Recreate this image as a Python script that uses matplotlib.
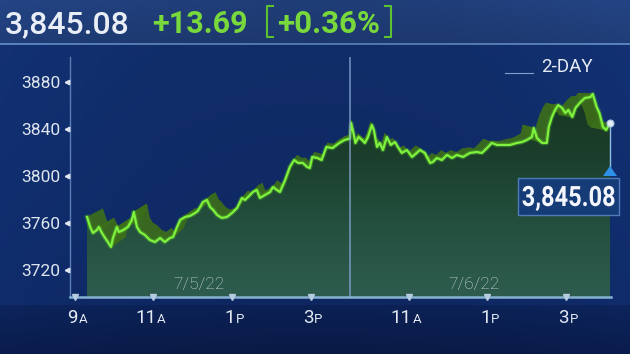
import numpy as np
import matplotlib
matplotlib.use("Agg")
import matplotlib.pyplot as plt
from matplotlib.collections import PolyCollection
from matplotlib.patches import Polygon, Rectangle, PathPatch
from matplotlib.lines import Line2D
from matplotlib.colors import LinearSegmentedColormap
from matplotlib.textpath import TextPath
from matplotlib.font_manager import FontProperties
import matplotlib.patheffects as pe
import matplotlib.transforms as mtrans

plt.rcParams['font.family'] = ['Roboto', 'DejaVu Sans']

# ---------------- data ----------------
# x = trading-session hours (0 = 9:30 on 7/5/22, 6.5 = close of 7/5 / open of 7/6)
day1_hours = [-0.19, -0.11, -0.04, 0.06, 0.11, 0.19, 0.27, 0.34, 0.42, 0.47, 0.57, 0.62,
              0.73, 0.85, 0.95, 1.00, 1.08, 1.16, 1.28, 1.41, 1.54, 1.67, 1.79, 1.92,
              2.00, 2.10, 2.18, 2.30, 2.43, 2.56, 2.63, 2.76, 2.86, 2.94, 3.02, 3.12,
              3.24, 3.37, 3.50, 3.63, 3.75, 3.83, 3.96, 4.03, 4.13, 4.21, 4.34, 4.47,
              4.54, 4.64, 4.72, 4.85, 4.97, 5.08, 5.18, 5.30, 5.41, 5.48, 5.54, 5.67,
              5.78, 5.90, 6.06, 6.23, 6.36, 6.45]
day1_prices = [3765.1, 3756.6, 3751.5, 3754.0, 3756.6, 3751.5, 3747.2, 3743.8, 3739.6, 3747.2,
               3756.6, 3752.3, 3754.0, 3756.6, 3762.6, 3769.4, 3756.6, 3752.3, 3749.8, 3745.5,
               3743.8, 3747.2, 3743.8, 3747.2, 3748.1, 3756.6, 3762.6, 3765.1, 3766.0, 3768.5,
               3770.2, 3777.9, 3779.6, 3773.6, 3771.1, 3766.8, 3764.3, 3765.1, 3768.5, 3772.8,
               3781.3, 3779.6, 3783.8, 3786.4, 3788.1, 3781.3, 3783.8, 3786.4, 3790.6, 3788.1,
               3786.4, 3796.6, 3807.7, 3813.6, 3811.1, 3811.1, 3807.7, 3806.8, 3816.2, 3815.3,
               3813.6, 3824.7, 3823.8, 3828.1, 3830.6, 3831.4]
day2_hours = [6.50, 6.53, 6.59, 6.64, 6.72, 6.81, 6.88, 6.96, 7.06, 7.11, 7.19, 7.26, 7.34,
              7.44, 7.54, 7.65, 7.72, 7.82, 7.95, 8.08, 8.20, 8.28, 8.41, 8.54, 8.61, 8.71,
              8.84, 8.97, 9.10, 9.22, 9.38, 9.55, 9.73, 9.86, 9.99, 10.11, 10.24, 10.39,
              10.57, 10.75, 10.88, 11.00, 11.13, 11.18, 11.26, 11.39, 11.51, 11.56, 11.64,
              11.72, 11.80, 11.90, 11.98, 12.06, 12.16, 12.24, 12.37, 12.48, 12.62, 12.68,
              12.78, 12.85, 12.94, 13.02, 13.12]
day2_prices = [3832.0, 3845.1, 3836.6, 3828.1, 3833.2, 3830.6, 3828.1, 3833.2, 3843.4, 3839.1,
               3824.7, 3828.1, 3822.1, 3833.2, 3826.4, 3828.9, 3824.7, 3819.6, 3822.1, 3816.2,
               3819.6, 3822.1, 3819.6, 3811.1, 3811.9, 3815.3, 3813.6, 3817.9, 3815.3, 3817.9,
               3816.2, 3819.6, 3820.4, 3819.6, 3823.8, 3828.1, 3826.4, 3826.4, 3826.4, 3828.1,
               3828.9, 3830.6, 3833.2, 3840.9, 3832.3, 3828.1, 3828.1, 3841.7, 3850.2, 3856.2,
               3860.4, 3857.9, 3853.6, 3856.2, 3850.2, 3857.9, 3863.0, 3866.4, 3867.2, 3869.8,
               3858.7, 3853.6, 3841.7, 3839.1, 3845.08]

y_ticks = [3720, 3760, 3800, 3840, 3880]
x_tick_pos = [-0.5, 1.5, 3.5, 5.5, 8.0, 10.0, 12.0]
x_tick_num = ['9', '11', '1', '3', '11', '1', '3']
x_tick_suffix = ['A', 'A', 'P', 'P', 'A', 'P', 'P']
date_labels = ['7/5/22', '7/6/22']
date_label_pos = [2.66, 9.66]
day_break = 6.5
last_price = 3845.08
change = 13.69
pct_change = 0.36
period_label = '2-DAY'

# ---------------- figure ----------------
W, H = 630, 354
fig = plt.figure(figsize=(W / 100, H / 100), dpi=100)


def fx(px):
    return px / W


def fy(py):
    return 1 - py / H


# background
bg = fig.add_axes([0, 0, 1, 1])
bg.axis('off')
img = np.zeros((H, W, 3))
c = np.arange(W)[None, :].astype(float)
top = np.array([0.12, 0.23, 0.45])
mid_t = np.array([0.065, 0.175, 0.41])
mid_b = np.array([0.055, 0.155, 0.38])
low_t = np.array([0.045, 0.13, 0.33])
low_b = np.array([0.035, 0.10, 0.27])
for i in range(H):
    if i < 43:
        col = top * (1.05 - 0.1 * i / 43)
    elif i < 45:
        col = np.array([0.32, 0.46, 0.68])
    elif i < 305:
        t = (i - 45) / 260
        col = mid_t * (1 - t) + mid_b * t
    else:
        t = (i - 305) / 49
        col = low_t * (1 - t) + low_b * t
    img[i, :, :] = col
vign = 1 + 0.10 * (np.abs(c - W / 2) / (W / 2)) ** 2
img = np.clip(img * vign[..., None], 0, 1)
bg.imshow(img, extent=[0, 1, 0, 1], aspect='auto', origin='upper')
bg.set_xlim(0, 1)
bg.set_ylim(0, 1)

# main axes
ax_left, ax_right, ax_top, ax_bot = 70, 625, 57, 297
ax = fig.add_axes([fx(ax_left), fy(ax_bot), (ax_right - ax_left) / W, (ax_bot - ax_top) / H])
ax.patch.set_alpha(0)
xmin, xmax = -0.623, 13.5
ymin, ymax = 3697.0, 3901.3
for s in ['top', 'right', 'bottom']:
    ax.spines[s].set_visible(False)
ax.spines['left'].set_color('#5a7db5')
ax.spines['left'].set_linewidth(1.0)

x = np.array(day1_hours + day2_hours)
y = np.array(day1_prices + day2_prices)

# gradient area under line
verts = [(x[0], ymin)] + list(zip(x, y)) + [(x[-1], ymin)]
area = Polygon(verts, closed=True, facecolor='none', edgecolor='none')
ax.add_patch(area)
cmap = LinearSegmentedColormap.from_list('g', ['#2d5c4e', '#24503f', '#1b3f2c', '#163522'])
grad = np.linspace(0, 1, 256).reshape(-1, 1)
im = ax.imshow(grad, extent=[x[0], x[-1], ymin, 3875], origin='lower', aspect='auto',
               cmap=cmap, zorder=1)
im.set_clip_path(area)

# 3D ribbon (perspective extrusion toward a vanishing point)
cx, cy, sc = day_break, 3882.0, 0.06
bx = x + (cx - x) * sc
by = y + (cy - y) * sc
quads = [[(x[i], y[i]), (x[i + 1], y[i + 1]), (bx[i + 1], by[i + 1]), (bx[i], by[i])]
         for i in range(len(x) - 1)]
ax.add_collection(PolyCollection(quads, facecolors='#3d6e1a', edgecolors='#3d6e1a',
                                 linewidths=0.4, alpha=0.9, zorder=2))

# main line
ax.plot(x, y, color='#7ef23c', lw=1.6, zorder=4, solid_joinstyle='round',
        path_effects=[pe.Stroke(linewidth=3.4, foreground='#58c02c', alpha=0.35), pe.Normal()])

# day separator
ax.axvline(day_break, color='#86a6d4', lw=1.1, alpha=0.85, zorder=5)

# bottom axis line
ax.plot([xmin, x[-1] + 0.03], [ymin, ymin], color='#86b2d2', lw=1.8, zorder=6, clip_on=False)
ax.plot(x_tick_pos, [ymin] * len(x_tick_pos), 'v', color='#b5cce2', ms=4.2, zorder=7,
        clip_on=False)

ax.set_xlim(xmin, xmax)
ax.set_ylim(ymin, ymax)

# y ticks
ax.set_xticks([])
ax.set_yticks(y_ticks)
ax.set_yticklabels([str(v) for v in y_ticks], color='#dfe6f0', fontsize=12.5)
ax.tick_params(axis='y', length=0, pad=7)
ytr = mtrans.blended_transform_factory(ax.transAxes, ax.transData)
ax.plot([-0.005] * len(y_ticks), y_ticks, '<', color='#dfe6f0', ms=3.2, transform=ytr,
        clip_on=False, zorder=7)

# x tick labels (number + small suffix)
for pos, num, suf in zip(x_tick_pos, x_tick_num, x_tick_suffix):
    ax.annotate(num, xy=(pos, ymin), xytext=(2.2, -19), textcoords='offset points',
                ha='right', va='baseline', color='#e4eaf3', fontsize=13.5,
                annotation_clip=False)
    ax.annotate(suf, xy=(pos, ymin), xytext=(2.6, -19), textcoords='offset points',
                ha='left', va='baseline', color='#e4eaf3', fontsize=9.5,
                annotation_clip=False)

# date labels
xtr = mtrans.blended_transform_factory(ax.transData, ax.transAxes)
for pos, lab in zip(date_label_pos, date_labels):
    ax.text(pos, 0.05, lab, transform=xtr, ha='center', va='center', color='#cdd5e0',
            fontsize=12.5, fontweight='light', zorder=8)

# end point marker + price flag
ax.plot([x[-1]], [y[-1]], 'o', ms=5, mfc='#e2eaf4', mec='#a8c4e0', mew=0.8, zorder=9)
inv = ax.transData.inverted()
flag_top = inv.transform((0, (H - 168)))[1]
ax.plot([x[-1], x[-1]], [y[-1], flag_top], color='#8fbde8', lw=1.0, zorder=8, clip_on=False)

fig.patches.append(Polygon([(fx(603), fy(176)), (fx(617), fy(176)), (fx(610), fy(166))],
                           closed=True, transform=fig.transFigure, facecolor='#2f90e8',
                           edgecolor='none', zorder=10))
fig.patches.append(Rectangle((fx(518), fy(215)), (619 - 518) / W, (215 - 178) / H,
                             transform=fig.transFigure, facecolor='#163c78',
                             edgecolor='#4f7cb8', lw=1.0, zorder=10))
# condensed bold price text in the flag (text drawn as a horizontally squeezed glyph path)
fp = FontProperties(family='Roboto', weight='bold')
tp = TextPath((0, 0), f'{last_price:,.2f}', size=28, prop=fp)
bb = tp.get_extents()
sx = 92 / bb.width
ttr = (mtrans.Affine2D().translate(-bb.x0 - bb.width / 2, 0).scale(sx, 1.0)
       .translate(568.5, H - 206).scale(1 / W, 1 / H) + fig.transFigure)
fig.patches.append(PathPatch(tp, transform=ttr, facecolor='#f2f5fa', edgecolor='none',
                             zorder=11))

# period label
fig.text(fx(567), fy(67), period_label, ha='center', va='center', color='#e6ecf4',
         fontsize=13.5)
fig.lines.append(Line2D([fx(505), fx(533)], [fy(73), fy(73)], transform=fig.transFigure,
                        color='#7f9fcc', lw=0.8))

# header
fig.text(fx(5), fy(33), f'{last_price:,.2f}', ha='left', va='baseline', color='#e9eef6',
         fontsize=23, fontweight='medium')
green = '#78d83c'
fig.text(fx(152), fy(33), f'+{change:.2f}', ha='left', va='baseline', color=green,
         fontsize=22, fontweight='bold')
fig.text(fx(277), fy(33), f'+{pct_change:.2f}%', ha='left', va='baseline', color=green,
         fontsize=22.5, fontweight='bold')
for xs, xe in [(267, 273), (391, 385)]:
    fig.lines.append(Line2D([fx(xe), fx(xs), fx(xs), fx(xe)], [fy(6), fy(6), fy(37), fy(37)],
                            transform=fig.transFigure, color='#5cc232', lw=1.5))

fig.savefig('out.png', dpi=100)
